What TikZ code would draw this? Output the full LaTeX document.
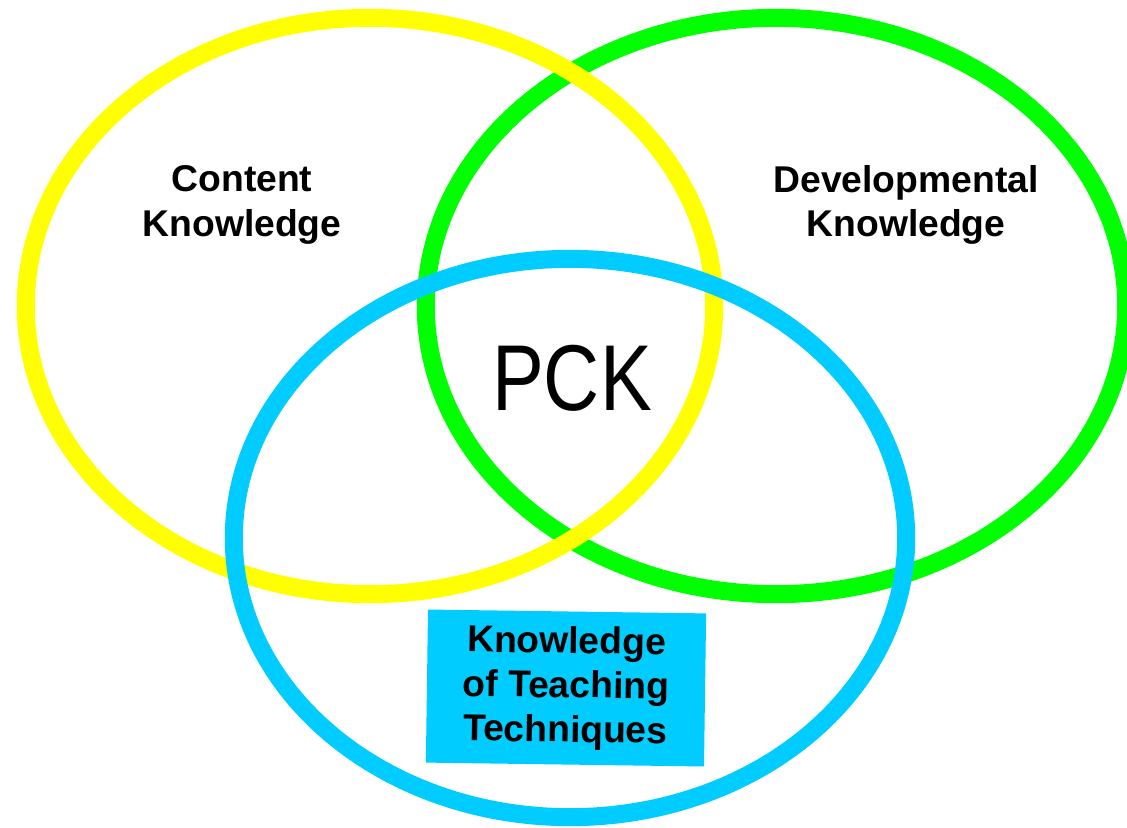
\documentclass[tikz,border=0pt]{standalone}
\usepackage{fontspec}
\setmainfont{Liberation Sans}
\newfontfamily\pckfont[FakeStretch=0.83]{Liberation Sans}
\definecolor{ringyellow}{HTML}{FFFF00}
\definecolor{ringgreen}{HTML}{00FF00}
\definecolor{ringblue}{HTML}{00CCFF}
\tikzset{
  ring/.style={line width=0.18cm},
  label/.style={align=center,font=\fontsize{10.6}{12.6}\selectfont\bfseries}
}
\begin{document}
\begin{tikzpicture}[x=0.01cm,y=-0.01cm]
   \useasboundingbox (0,0) rectangle (1127,827);
   \draw[ring,ringgreen] (776,306) ellipse [x radius=3.50cm, y radius=2.88cm];
   \draw[ring,ringyellow] (370,306) ellipse [x radius=3.44cm, y radius=2.88cm];
   \draw[ring,ringblue] (570,538) ellipse [x radius=3.36cm, y radius=2.79cm];
   \node[label] (content) at (242,205) {Content\\Knowledge};
   \node[label] (develop) at (906,205) {Developmental\\Knowledge};
   \node[label,fill=ringblue,minimum width=2.78cm,minimum height=1.53cm,rotate=-0.8]
      (teach) at (566,688) {Knowledge\\of Teaching\\Techniques};
   \node[font=\pckfont\fontsize{26.6}{30}\selectfont] (pck) at (572,378) {PCK};
\end{tikzpicture}
\end{document}
